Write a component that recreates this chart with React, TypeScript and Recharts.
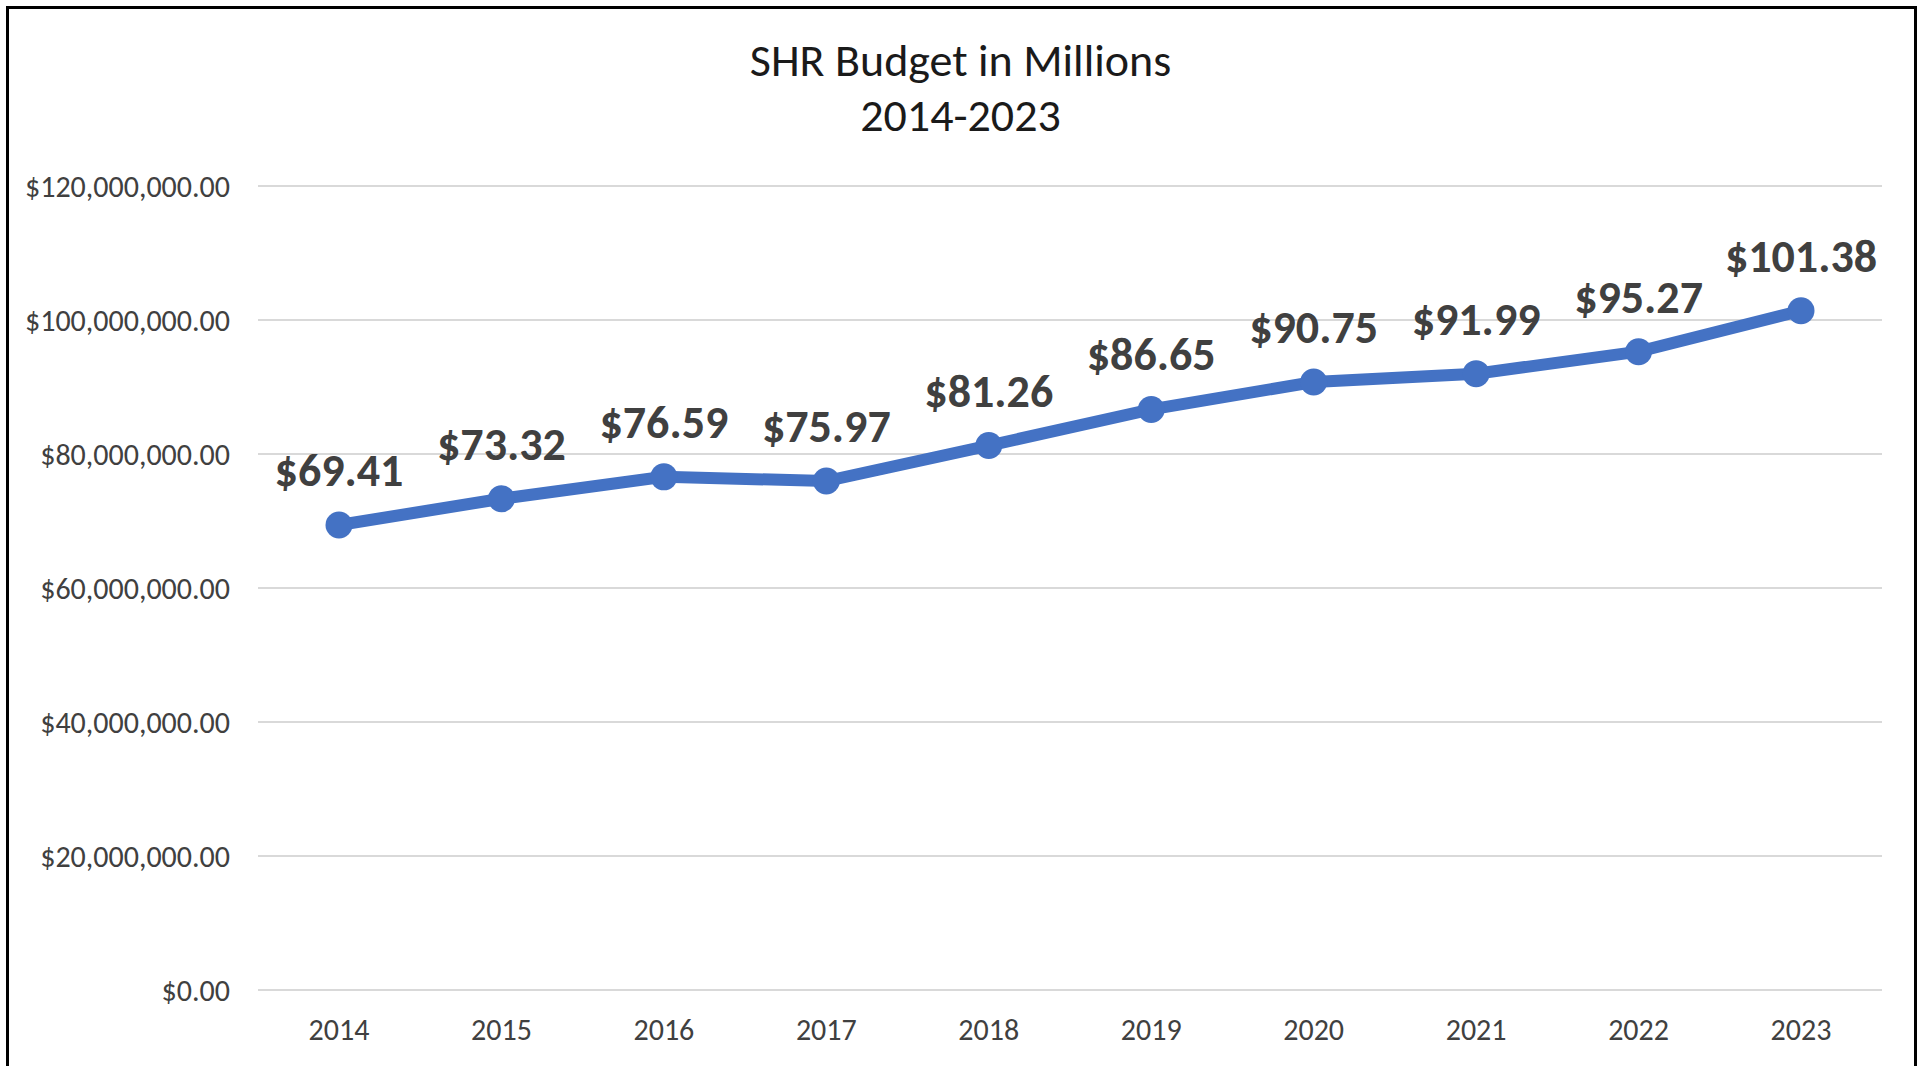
import { LineChart, Line, XAxis, YAxis, CartesianGrid, LabelList } from 'recharts';

const years = ['2014', '2015', '2016', '2017', '2018', '2019', '2020', '2021', '2022', '2023'];
const budget = [69410000, 73320000, 76590000, 75970000, 81260000, 86650000, 90750000, 91990000, 95270000, 101380000];
const yTicks = [0, 20000000, 40000000, 60000000, 80000000, 100000000, 120000000];
const titleLines = ['SHR Budget in Millions', '2014-2023'];

const data = years.map((year, i) => ({ year, budget: budget[i] }));

const FONT = 'Carlito, Calibri, Lato, sans-serif';
const BLUE = '#4472C4';

const money = (v: number) =>
  '$' + v.toLocaleString('en-US', { minimumFractionDigits: 2, maximumFractionDigits: 2 });

const App = () => {
  return (
    <div
      style={{
        position: 'absolute',
        left: 0,
        top: 0,
        width: 1921,
        height: 1066,
        overflow: 'hidden',
        background: '#fff',
        fontFamily: FONT,
      }}
    >
      <div
        style={{
          position: 'absolute',
          left: 6,
          top: 6,
          width: 1905,
          height: 1080,
          border: '3px solid #000',
        }}
      />
      <div
        style={{
          position: 'absolute',
          left: 0,
          width: 1921,
          top: 33,
          textAlign: 'center',
          fontSize: 46,
          lineHeight: '55px',
          color: '#1a1a1a',
        }}
      >
        {titleLines.map((t) => (
          <div key={t}>{t}</div>
        ))}
      </div>
      <div style={{ position: 'absolute', left: 0, top: 0 }}>
        <LineChart width={1921} height={1066} data={data} margin={{ top: 186, right: 39, left: 0, bottom: 0 }}>
          <CartesianGrid vertical={false} stroke="#d9d9d9" strokeWidth={2} />
          <XAxis
            dataKey="year"
            axisLine={false}
            tickLine={false}
            tickSize={0}
            tickMargin={29}
            height={76}
            padding={{ left: 81, right: 81 }}
            tick={{ fill: '#404040', fontSize: 30, fontFamily: FONT }}
          />
          <YAxis
            domain={[0, 120000000]}
            ticks={yTicks}
            axisLine={false}
            tickLine={false}
            tickSize={0}
            tickMargin={28}
            width={258}
            tickFormatter={money}
            tick={{ fill: '#404040', fontSize: 30, fontFamily: FONT }}
          />
          <Line
            type="linear"
            dataKey="budget"
            stroke={BLUE}
            strokeWidth={12}
            dot={{ r: 13.5, fill: BLUE, stroke: 'none' }}
            activeDot={false}
            isAnimationActive={false}
          >
            <LabelList
              dataKey="budget"
              position="top"
              offset={39}
              formatter={(v: number) => '$' + (v / 1000000).toFixed(2)}
              style={{ fill: '#404040', fontSize: 46, fontWeight: 700, fontFamily: FONT }}
            />
          </Line>
        </LineChart>
      </div>
    </div>
  );
};

export default App;
